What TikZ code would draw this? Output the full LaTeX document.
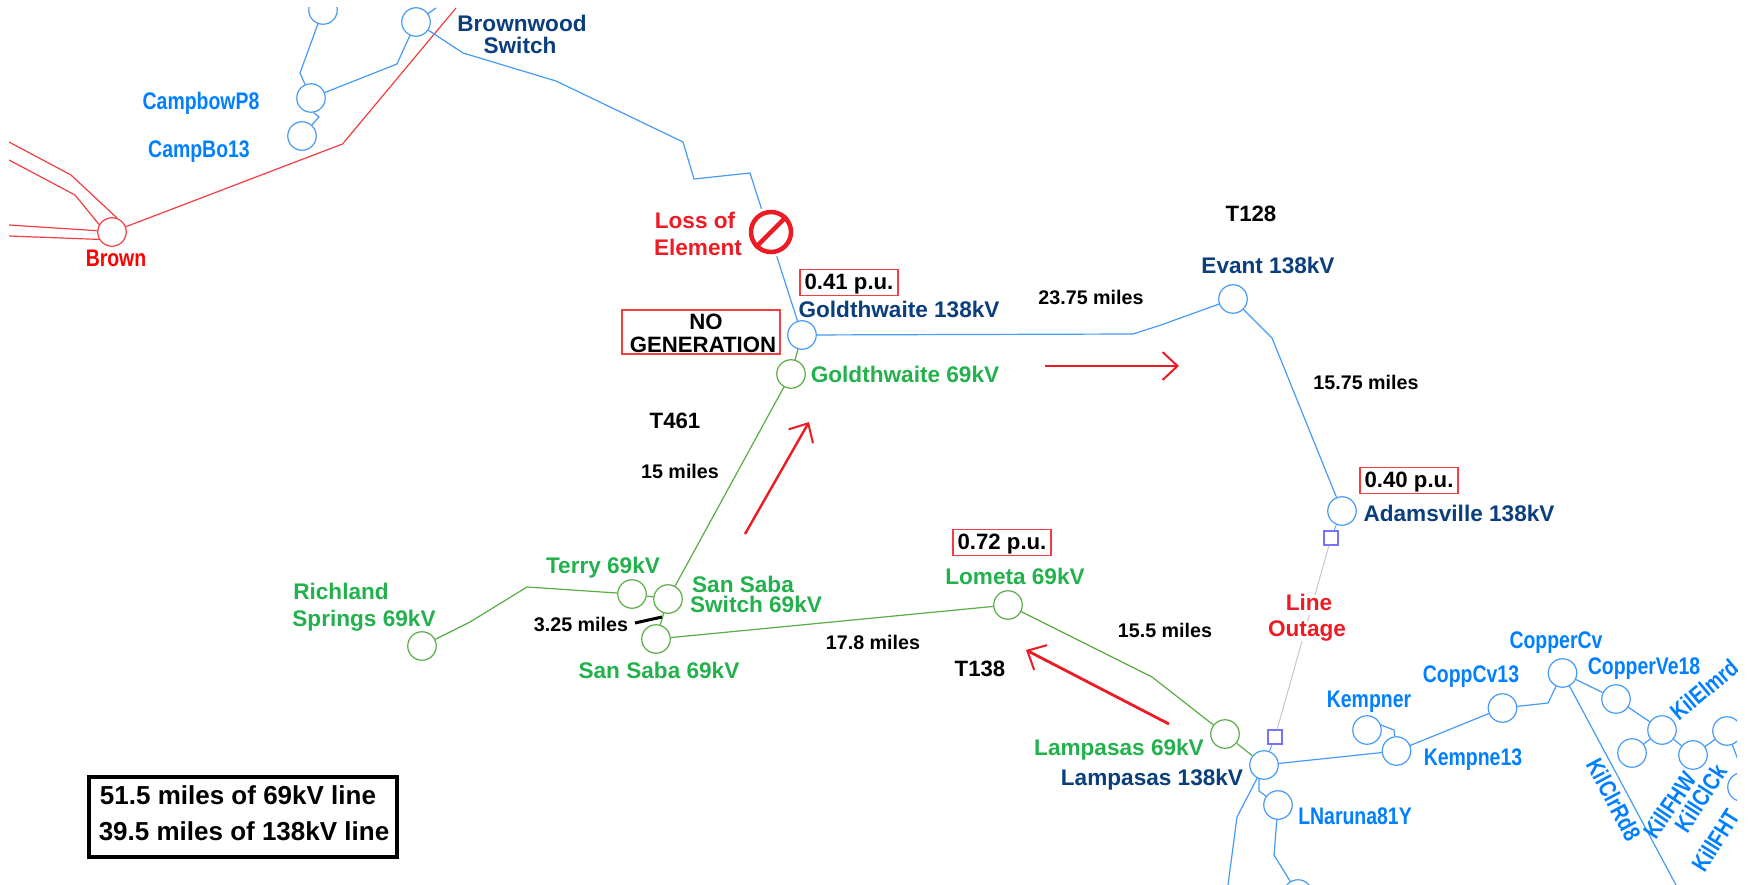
\documentclass[tikz,border=0pt]{standalone}
\usepackage{fontspec}
\setmainfont{Liberation Sans}
\newfontfamily\narrowb{Liberation Sans}[FakeStretch=0.81,UprightFont=* Bold]
\usetikzlibrary{arrows.meta}
\definecolor{rd}{RGB}{237,28,36}
\definecolor{grn}{RGB}{34,177,76}
\definecolor{navy}{RGB}{10,62,125}
\definecolor{blu}{RGB}{0,128,255}
\definecolor{lblu}{RGB}{70,155,245}
\definecolor{lgrn}{RGB}{90,172,70}
\definecolor{lred}{RGB}{245,60,65}
\tikzset{
 bus/.style={circle,draw,line width=1.2pt,minimum size=28.5pt,inner sep=0pt,fill=white},
 bb/.style={bus,draw=lblu}, bg/.style={bus,draw=lgrn}, br/.style={bus,draw=lred},
 ln/.style={line width=1.2pt},
 lb/.style={ln,draw=lblu}, lg/.style={ln,draw=lgrn}, lr/.style={ln,draw=lred},
 lab/.style={font=\bfseries\fontsize{22.6}{24}\selectfont,inner sep=0pt,text height=15.5pt,text depth=4.5pt,align=center,yshift=-2.5pt},
 navyl/.style={lab,text=navy}, grnl/.style={lab,text=grn}, redl/.style={lab,text=rd},
 nar/.style={font=\narrowb\fontsize{24}{26}\selectfont,inner sep=0pt,text height=15.5pt,text depth=4.5pt,text=blu,yshift=-2pt},
 mil/.style={font=\bfseries\fontsize{19.7}{22}\selectfont,inner sep=0pt,text height=14pt,text depth=4pt,text=black,yshift=-2pt},
 ttl/.style={font=\bfseries\fontsize{22.2}{24}\selectfont,inner sep=0pt,text height=15.5pt,text depth=4.5pt,text=black,yshift=-2.5pt},
 pubox/.style={font=\bfseries\fontsize{22.2}{24}\selectfont,inner sep=0pt,text height=16.5pt,text depth=3pt,text=black,draw=lred,line width=1.2pt,minimum width=98pt,minimum height=26.5pt},
 sq/.style={draw=blue!55!white,line width=1.1pt,minimum size=14pt,inner sep=0pt,fill=white},
 flow/.style={draw=rd,-{Straight Barb[length=15pt,width=28pt,line width=2pt]}},
}
\begin{document}
\begin{tikzpicture}[x=1pt,y=-1pt]
\useasboundingbox (0,0) rectangle (1750,885);
\fill[white] (0,0) rectangle (1750,885);
\begin{scope}
\clip (9,8) rectangle (1737,885);
% buses
\node[br] (brown) at (112,232) {};
\node[bb] (top1) at (323,10) {};
\node[bb] (bwood) at (416,22) {};
\node[bb] (cbow) at (311,98) {};
\node[bb] (cb13) at (302,136) {};
\node[bb] (g138) at (802,335) {};
\node[bg] (g69) at (791,374) {};
\node[bb] (evant) at (1233,299) {};
\node[bb] (adams) at (1342,511) {};
\node[sq] (sqa) at (1331,538) {};
\node[sq] (sqb) at (1275,737) {};
\node[bg] (lom) at (1008,605) {};
\node[bg] (ssaba) at (656,639) {};
\node[bg] (ssw) at (668,599) {};
\node[bg] (terry) at (632,594) {};
\node[bg] (rich) at (422,646) {};
\node[bg] (l69) at (1225,734) {};
\node[bb] (l138) at (1264,765) {};
\node[bb] (kemp) at (1367,730) {};
\node[bb] (k13) at (1396.5,751) {};
\node[bb] (c13) at (1502.5,708) {};
\node[bb] (ccv) at (1562.5,673) {};
\node[bb] (c18) at (1616,699) {};
\node[bb] (kel) at (1662,730) {};
\node[bb] (n1) at (1632,753) {};
\node[bb] (n2) at (1693,755) {};
\node[bb] (n3) at (1727,731) {};
\node[bb] (n4) at (1742,787) {};
\node[bb] (lnar) at (1278,805) {};
\node[bb] (lbot) at (1298,894) {};
% free ends
\coordinate (fa) at (9,142); \coordinate (fb) at (9,160); \coordinate (fc) at (9,225); \coordinate (fd) at (9,236);
\coordinate (fe) at (456,8); \coordinate (ff) at (436,8); \coordinate (fg) at (1676,885); \coordinate (fh) at (1228,885);
\coordinate (fi) at (1745,778);
% red lines
\draw[lr] (brown) -- (342.5,144) -- (fe);
\draw[lr] (fa) -- (71,175) -- (brown.70);
\draw[lr] (fb) -- (75,195) -- (brown.150);
\draw[lr] (fc) -- (brown.175);
\draw[lr] (fd) -- (brown.210);
% blue lines
\draw[lb] (bwood) -- (ff);
\draw[lb] (top1) -- (300,73) -- (cbow);
\draw[lb] (cbow) -- (397,64) -- (bwood);
\draw[lb] (cbow.-80) -- (319,117) -- (cb13);
\draw[lb] (bwood) -- (463,53) -- (556,81) -- (683,142) -- (694,179) -- (750,173) -- (g138);
\draw[lb] (g138) -- (1133,334) -- (1161,325) -- (evant);
\draw[lb] (evant) -- (1272,338) -- (adams);
\draw[lb] (l138) -- (k13);
\draw[lb] (kemp.20) -- (1394,730) -- (k13);
\draw[lb] (k13) -- (c13);
\draw[lb] (c13) -- (1548,703) -- (ccv);
\draw[lb] (ccv) -- (fg);
\draw[lb] (ccv) -- (c18);
\draw[lb] (c18) -- (kel);
\draw[lb] (kel) -- (n1);
\draw[lb] (kel) -- (n2);
\draw[lb] (n2) -- (n3);
\draw[lb] (n3) -- (fi);
\draw[lb] (l138) -- (1237,817) -- (fh);
\draw[lb] (l138.-110) -- (1259,791) -- (lnar);
\draw[lb] (lnar) -- (1274,855) -- (lbot);
% green lines
\draw[lg] (g138) -- (g69);
\draw[lg] (g69) -- (ssw);
\draw[lg] (ssw) -- (ssaba);
\draw[lg] (ssw) -- (terry);
\draw[lg] (terry) -- (527,587) -- (470,622) -- (rich);
\draw[lg] (ssaba) -- (lom);
\draw[lg] (lom) -- (1152,677) -- (l69);
\draw[lg] (l69) -- (l138);
% gray outage
\draw[black!22,line width=1pt] (sqa) -- (sqb);
\node[redl,fill=white] (louta) at (1309,602) {Line};
\node[redl,fill=white] (loutb) at (1307,628) {Outage};
\draw[lb,line width=.8pt] (adams) -- (sqa);
\draw[lb,line width=.8pt] (sqb) -- (l138);
% loss sign
\coordinate (lossc) at (771,232);
\fill[white] (lossc) circle (25);
\node[circle,draw=rd,line width=4.5pt,minimum size=40pt,inner sep=0pt,fill=white] (loss) at (lossc) {};
\draw[rd,line width=4.5pt] (loss.225) -- (loss.45);
% labels
\node[navyl] (lbwa) at (522,24) {Brownwood};
\node[navyl] (lbwb) at (520,46) {Switch};
\node[nar] (lcb) at (201,102) {CampbowP8};
\node[nar] (lcc) at (199,150) {CampBo13};
\node[nar,text=red] (lbr) at (116,259) {Brown};
\node[redl] (lla) at (695,221) {Loss of};
\node[redl] (llb) at (698,248) {Element};
\node[navyl] (lg138) at (899,309) {Goldthwaite 138kV};
\node[grnl] (lg69) at (905,374) {Goldthwaite 69kV};
\node[navyl] (lev) at (1268,265) {Evant 138kV};
\node[navyl] (lad) at (1459,513) {Adamsville 138kV};
\node[grnl] (llo) at (1015,576) {Lometa 69kV};
\node[grnl] (ll69) at (1119,747) {Lampasas 69kV};
\node[navyl] (ll138) at (1152,777) {Lampasas 138kV};
\node[grnl] (lra) at (341,591) {Richland};
\node[grnl] (lrb) at (364,618) {Springs 69kV};
\node[grnl] (lte) at (603,565) {Terry 69kV};
\node[grnl] (lsa) at (743,584) {San Saba};
\node[grnl] (lsb) at (756,604) {Switch 69kV};
\node[grnl] (lss) at (659,670) {San Saba 69kV};
\node[ttl] (tt1) at (675,420) {T461};
\node[ttl] (tt2) at (1251,214) {T128};
\node[ttl] (tt3) at (980,668) {T138};
\node[mil] (m1) at (680,471) {15 miles};
\node[mil] (m2) at (1091,298) {23.75 miles};
\node[mil] (m3) at (1366,382) {15.75 miles};
\node[mil] (m4) at (1165,630) {15.5 miles};
\node[mil] (m5) at (873,642) {17.8 miles};
\node[mil] (m6) at (581,624) {3.25 miles};
\coordinate (ma) at (635,623); \coordinate (mb) at (662,617);
\draw[black,line width=3pt] (ma) -- (mb);
\node[pubox] (pa) at (849,282.5) {0.41 p.u.};
\node[pubox] (pb) at (1409,480.5) {0.40 p.u.};
\node[pubox] (pc) at (1002,542.5) {0.72 p.u.};
\node[draw=lred,line width=1.2pt,minimum width=158pt,minimum height=44pt,inner sep=0pt] (ng) at (701,332) {};
\node[ttl] (nga) at (706,321) {NO};
\node[ttl] (ngb) at (703,344) {GENERATION};
\node[draw=black,line width=3.5pt,minimum width=308pt,minimum height=80pt,inner sep=0pt] (sum) at (243,817) {};
\node[font=\bfseries\fontsize{26}{28}\selectfont,inner sep=0pt] (suma) at (238,795) {51.5 miles of 69kV line};
\node[font=\bfseries\fontsize{26}{28}\selectfont,inner sep=0pt] (sumb) at (244,831) {39.5 miles of 138kV line};
\node[nar] (lk) at (1369,700) {Kempner};
\node[nar] (lk13) at (1473,758) {Kempne13};
\node[nar] (lc13) at (1471,675) {CoppCv13};
\node[nar] (lcc2) at (1556,641) {CopperCv};
\node[nar] (lc18) at (1644,667) {CopperVe18};
\node[nar] (lln) at (1355,817) {LNaruna81Y};
\node[nar,rotate=-62] (lkc) at (1611,799) {KilClrRd8};
\node[nar,rotate=56] (lkf) at (1672,805) {KillFHW};
\node[nar,rotate=57] (lkk) at (1703,798) {KillClCk};
\node[nar,rotate=58] (lkt) at (1718,840) {KillFHT};
\node[nar,rotate=40] (lke) at (1706,690) {KilElmrd};
% flow arrows
\coordinate (a1) at (1045,366); \coordinate (a2) at (1179,366);
\coordinate (b1) at (745,534); \coordinate (b2) at (809,422);
\coordinate (c1) at (1169,724); \coordinate (c2) at (1026,650);
\draw[flow,line width=2pt] (a1) -- (a2);
\draw[flow,line width=2.4pt] (b1) -- (b2);
\draw[flow,line width=2.8pt] (c1) -- (c2);
\end{scope}
\end{tikzpicture}
\end{document}
